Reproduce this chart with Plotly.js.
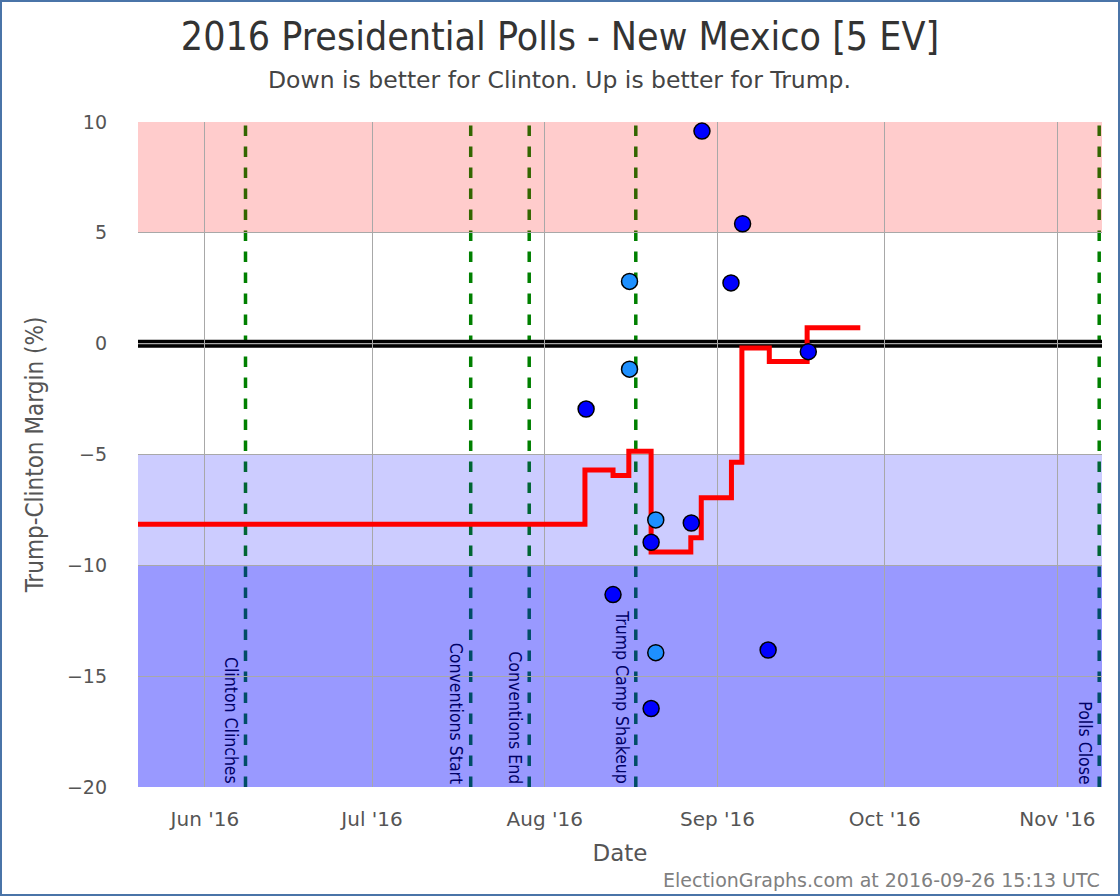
<!DOCTYPE html>
<html>
<head>
<meta charset="utf-8">
<script src="https://cdn.plot.ly/plotly-3.0.1.min.js"></script>
<style>
html,body{margin:0;padding:0;background:#fff;}
#frame{width:1116px;height:892px;border:2px solid #4a74a8;}
#chart{width:1116px;height:892px;}
</style>
</head>
<body>
<div id="frame"><div id="chart"></div></div>
<script>
// Moving average (step line)
const avgDates = ['2016-05-20','2016-08-08 05:00','2016-08-13 06:00','2016-08-16 02:00','2016-08-20 02:00','2016-08-27 05:00','2016-08-29 02:00','2016-09-03 12:00','2016-09-05 09:00','2016-09-10 07:00','2016-09-17 02:00','2016-09-26 15:00'];
const avgValues = [-8.15,-5.7,-5.95,-4.85,-9.4,-8.75,-6.95,-5.35,-0.2,-0.8,0.72,0.72];

// Polls
const pollDates = ['2016-08-08 10:00','2016-08-13 06:00','2016-08-16 05:00','2016-08-16 05:00','2016-08-20 02:00','2016-08-20 22:00','2016-08-20 22:00','2016-08-20 02:00','2016-08-27 07:00','2016-08-29 05:00','2016-09-03 10:00','2016-09-05 12:00','2016-09-10 02:00','2016-09-17 07:00'];
const pollValues = [-2.95,-11.32,2.81,-1.15,-8.96,-7.95,-13.94,-16.46,-8.09,9.59,2.74,5.41,-13.82,-0.36];
const pollKinds = ['dark','dark','light','light','dark','light','light','dark','dark','dark','dark','dark','dark','dark'];

// Events
const eventDates = ['2016-06-08 07:00','2016-07-18 17:00','2016-07-29 05:00','2016-08-17 08:00','2016-11-08 12:00'];
const eventLabels = ['Clinton Clinches','Conventions Start','Conventions End','Trump Camp Shakeup','Polls Close'];

// Bands
const bandLows = [5,-10,-20];
const bandHighs = [10,-5,-10];
const bandColors = ['rgba(255,0,0,0.2)','rgba(0,0,255,0.2)','rgba(0,0,255,0.4)'];

const xRange = ['2016-05-20','2016-11-09'];
const yTicks = [-20,-15,-10,-5,0,5,10];
const xTicks = ['2016-06-01','2016-07-01','2016-08-01','2016-09-01','2016-10-01','2016-11-01'];
const xTickLabels = ["Jun '16","Jul '16","Aug '16","Sep '16","Oct '16","Nov '16"];

const shapes = [];
eventDates.forEach(d => shapes.push({type:'line',xref:'x',yref:'paper',x0:d,x1:d,y0:0,y1:1,layer:'below',line:{color:'#008000',width:3.5,dash:'dash'}}));
bandLows.forEach((lo,i) => shapes.push({type:'rect',xref:'paper',yref:'y',x0:0,x1:1,y0:lo,y1:bandHighs[i],layer:'below',fillcolor:bandColors[i],line:{width:0}}));
shapes.push({type:'line',xref:'paper',yref:'y',x0:0,x1:1,y0:0,y1:0,layer:'below',line:{color:'#000',width:8}});
shapes.push({type:'line',xref:'paper',yref:'y',x0:0,x1:1,y0:0,y1:0,layer:'below',line:{color:'#555',width:1.5}});

const annotations = eventDates.map((d,i) => ({
  x:d, xref:'x', y:0, yref:'paper', text:eventLabels[i], textangle:90,
  showarrow:false, xanchor:'right', yanchor:'bottom', xshift:-2, yshift:1,
  font:{family:'DejaVu Sans Condensed, DejaVu Sans',size:17.5,color:'#000066'}
}));
annotations.push({xref:'paper',yref:'paper',x:1,y:0,yshift:-93,xanchor:'right',yanchor:'middle',showarrow:false,
  text:'ElectionGraphs.com at 2016-09-26 15:13 UTC',font:{family:'DejaVu Sans',size:19,color:'#808080'}});
annotations.push({xref:'paper',yref:'paper',x:0.5,y:1,xshift:-61,yshift:42,xanchor:'center',yanchor:'middle',showarrow:false,
  text:'Down is better for Clinton. Up is better for Trump.',font:{family:'DejaVu Sans',size:23.5,color:'#444'}});

const traces = [
  {x:avgDates,y:avgValues,type:'scatter',mode:'lines',line:{shape:'hv',color:'#ff0000',width:5},hoverinfo:'skip'},
  {x:pollDates,y:pollValues,type:'scatter',mode:'markers',
   marker:{size:16,color:pollKinds.map(k=>k==='dark'?'#0000ff':'#1e90ff'),line:{color:'#000',width:1.5}}}
];

const layout = {
  width:1116,height:892,showlegend:false,
  margin:{l:136,r:16,t:120,b:107},
  paper_bgcolor:'#fff',plot_bgcolor:'#fff',
  title:{text:'2016 Presidential Polls - New Mexico [5 EV]',x:0.5,xanchor:'center',y:0.962,yanchor:'middle',
    font:{family:'DejaVu Sans Condensed, DejaVu Sans',size:39,color:'#333'}},
  xaxis:{type:'date',range:xRange,tickvals:xTicks,ticktext:xTickLabels,showgrid:true,gridcolor:'#a8a8a8',gridwidth:1,
    zeroline:false,showline:false,ticks:'',tickfont:{family:'DejaVu Sans',size:20,color:'#555'},
    ticklabelstandoff:18,
    title:{text:'Date',font:{family:'DejaVu Sans',size:23,color:'#555'},standoff:14}},
  yaxis:{range:[-20,10],tickvals:yTicks,showgrid:true,gridcolor:'#a8a8a8',gridwidth:1,zeroline:false,showline:false,ticks:'',
    ticklabelstandoff:30,
    tickfont:{family:'DejaVu Sans',size:19,color:'#555'},
    title:{text:'Trump-Clinton Margin (%)',font:{family:'DejaVu Sans Condensed, DejaVu Sans',size:24,color:'#555'},standoff:16}},
  shapes:shapes,annotations:annotations
};
Plotly.newPlot('chart',traces,layout,{staticPlot:true});
</script>
</body>
</html>
